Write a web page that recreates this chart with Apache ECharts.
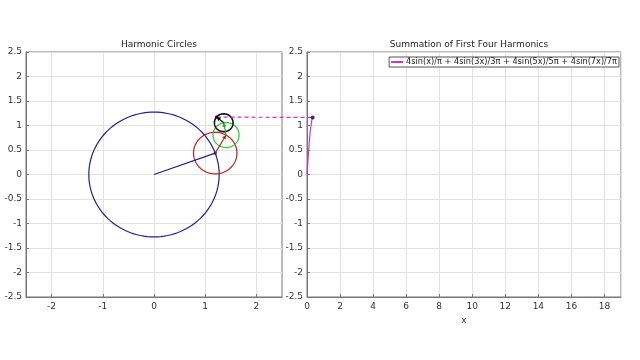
<!DOCTYPE html>
<html><head><meta charset="utf-8">
<script src="https://cdn.jsdelivr.net/npm/echarts@6/dist/echarts.min.js"></script>
<style>html,body{margin:0;padding:0;background:#fff}#c{width:640px;height:360px}</style>
</head><body><div id="c"></div>
<script>
// Harmonic circles
var circleCX = [0, 1.196, 1.407, 1.362];
var circleCY = [0, 0.437, 0.805, 1.056];
var circleR = [1.273, 0.424, 0.255, 0.182];
var tipX = [1.196, 1.407, 1.362, 1.222];
var tipY = [0.437, 0.805, 1.056, 1.172];
var circleColors = ['#1f1f96', '#c41c1c', '#27c927', '#111111'];
var arrowColors = ['#1f1f96', '#a8342a', '#27a927', '#111111'];
// Summation curve
var sumX = [0, 0.05, 0.1, 0.15, 0.2, 0.25, 0.3, 0.34];
var sumY = [0, 0.25, 0.49, 0.71, 0.89, 1.02, 1.12, 1.164];
var legendName = '4sin(x)/\u03c0 + 4sin(3x)/3\u03c0 + 4sin(5x)/5\u03c0 + 4sin(7x)/7\u03c0';
var leftXTicks = [-2, -1, 0, 1, 2];

var FONT = 'DejaVu Sans';
var chart = echarts.init(document.getElementById('c'));

function axisCommon() {
  return {
    axisLine: {show: true, onZero: false, lineStyle: {color: '#777', width: 1}},
    axisTick: {show: true, inside: true, length: 3, lineStyle: {color: '#777'}},
    splitLine: {show: true, lineStyle: {color: '#e2e2e2', width: 1}},
    axisLabel: {color: '#333', fontFamily: FONT, fontSize: 9, margin: 4}
  };
}

var circleData = circleCX.map(function (v, i) { return [v, circleCY[i], circleR[i], i]; });
var arrowData = circleCX.map(function (v, i) { return [v, circleCY[i], tipX[i], tipY[i], i]; });

var option = {
  animation: false,
  title: [
    {text: 'Harmonic Circles', left: 154, top: 35, textAlign: 'center',
     textStyle: {fontFamily: FONT, fontSize: 9, fontWeight: 'normal', color: '#222'}},
    {text: 'Summation of First Four Harmonics', left: 464, top: 35, textAlign: 'center',
     textStyle: {fontFamily: FONT, fontSize: 9, fontWeight: 'normal', color: '#222'}}
  ],
  legend: {
    data: [legendName], right: 21, top: 57, padding: [1, 2, 1, 2],
    itemWidth: 12, itemHeight: 2, itemGap: 2, icon: 'rect',
    borderColor: '#555', borderWidth: 1, backgroundColor: '#fff',
    textStyle: {fontFamily: FONT, fontSize: 8.2, color: '#222', padding: [0, 0, 0, -2]}
  },
  grid: [
    {left: 26, top: 52, width: 256, height: 245, show: true, borderColor: '#777', borderWidth: 1},
    {left: 307, top: 52, width: 314, height: 245, show: true, borderColor: '#777', borderWidth: 1}
  ],
  xAxis: [
    Object.assign(axisCommon(), {gridIndex: 0, type: 'value', min: -2.5, max: 2.5,
      axisLabel: {color: '#333', fontFamily: FONT, fontSize: 9, margin: 5, customValues: leftXTicks},
      axisTick: {show: true, inside: true, length: 3, lineStyle: {color: '#777'}, customValues: leftXTicks},
      splitLine: {show: true, lineStyle: {color: '#e2e2e2'}}}),
    Object.assign(axisCommon(), {gridIndex: 1, type: 'value', min: 0, max: 19, interval: 2,
      name: 'x', nameLocation: 'middle', nameGap: 15,
      nameTextStyle: {fontFamily: FONT, fontSize: 9, color: '#333'},
      axisLabel: {color: '#333', fontFamily: FONT, fontSize: 9, margin: 5, showMaxLabel: false}})
  ],
  yAxis: [
    Object.assign(axisCommon(), {gridIndex: 0, type: 'value', min: -2.5, max: 2.5, interval: 0.5}),
    Object.assign(axisCommon(), {gridIndex: 1, type: 'value', min: -2.5, max: 2.5, interval: 0.5})
  ],
  series: [
    {
      type: 'custom', xAxisIndex: 0, yAxisIndex: 0, data: circleData, silent: true,
      renderItem: function (params, api) {
        var cx = api.value(0), cy = api.value(1), r = api.value(2), idx = api.value(3);
        var pts = [];
        for (var k = 0; k <= 120; k++) {
          var a = k / 120 * Math.PI * 2;
          pts.push(api.coord([cx + r * Math.cos(a), cy + r * Math.sin(a)]));
        }
        return {type: 'polyline', shape: {points: pts},
          style: {stroke: circleColors[idx], lineWidth: idx === 3 ? 1.6 : 1.2, fill: null}};
      }
    },
    {
      type: 'custom', xAxisIndex: 0, yAxisIndex: 0, data: arrowData, silent: true, z: 5,
      renderItem: function (params, api) {
        var p0 = api.coord([api.value(0), api.value(1)]);
        var p1 = api.coord([api.value(2), api.value(3)]);
        var idx = api.value(4);
        var c = arrowColors[idx];
        var dx = p1[0] - p0[0], dy = p1[1] - p0[1];
        var L = Math.sqrt(dx * dx + dy * dy); var ux = dx / L, uy = dy / L;
        var children = [{type: 'line', shape: {x1: p0[0], y1: p0[1], x2: p1[0], y2: p1[1]},
          style: {stroke: c, lineWidth: 1.2}}];
        if (idx === 0 || idx === 3) {
          children.push({type: 'circle', shape: {cx: p1[0], cy: p1[1], r: 1.6}, style: {fill: idx === 0 ? '#1a1a60' : '#111'}});
        }
        if (idx > 0) {
          var s = 4, w = 2.2;
          var bx = p1[0] - ux * s, by = p1[1] - uy * s;
          children.push({type: 'polygon', shape: {points: [[p1[0], p1[1]], [bx - uy * w, by + ux * w], [bx + uy * w, by - ux * w]]},
            style: {fill: c}});
        }
        return {type: 'group', children: children};
      }
    },
    {
      name: legendName, type: 'line', xAxisIndex: 1, yAxisIndex: 1,
      data: sumX.map(function (v, i) { return [v, sumY[i]]; }),
      showSymbol: false, lineStyle: {color: '#cc33cc', width: 1.2}, itemStyle: {color: '#cc33cc'}
    },
    {
      type: 'scatter', xAxisIndex: 1, yAxisIndex: 1, symbolSize: 4,
      data: [[sumX[sumX.length - 1], sumY[sumY.length - 1]]], itemStyle: {color: '#111'}, z: 6
    }
  ]
};
chart.setOption(option);

// dashed connector from the last phasor tip to the current sum point
var pA = chart.convertToPixel({xAxisIndex: 0, yAxisIndex: 0}, [tipX[3], tipY[3]]);
var pB = chart.convertToPixel({xAxisIndex: 1, yAxisIndex: 1}, [sumX[sumX.length - 1], sumY[sumY.length - 1]]);
chart.setOption({graphic: [{type: 'line', z: 4, shape: {x1: pA[0], y1: pA[1], x2: pB[0], y2: pB[1]},
  style: {stroke: '#cc33cc', lineWidth: 1.2, lineDash: [4, 3]}}]});
</script></body></html>
